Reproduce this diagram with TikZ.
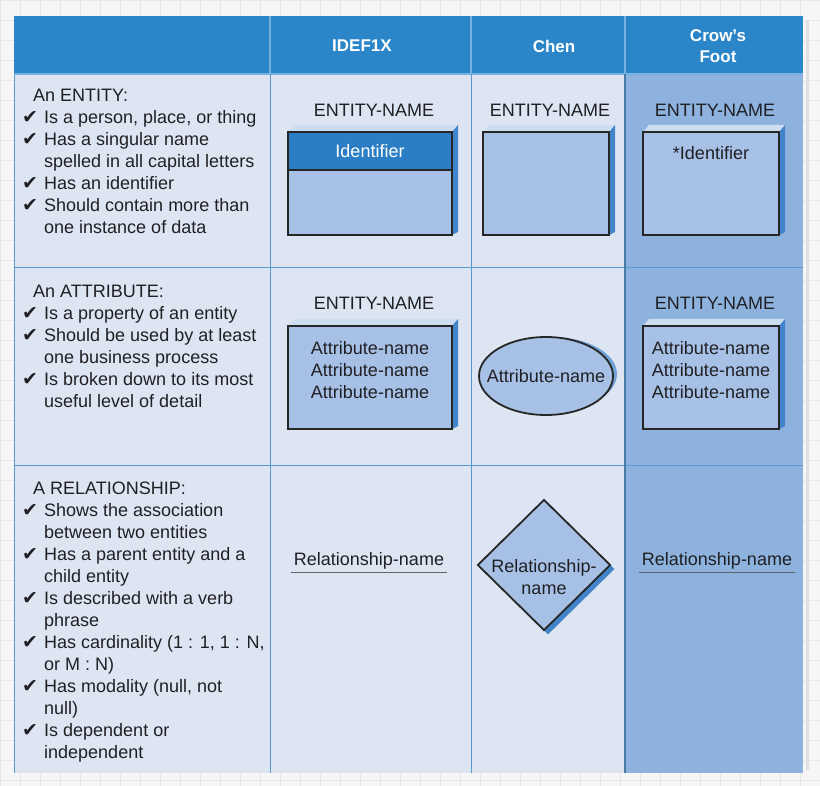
\documentclass[tikz,border=0pt]{standalone}
\usepackage{fontspec}
\setmainfont{Liberation Sans}
\newfontfamily\symfont{DejaVu Sans}
\usetikzlibrary{shapes.geometric, positioning, calc}

\pgfdeclarelayer{back}
\pgfdeclarelayer{faces}
\pgfsetlayers{back,faces,main}

\newcommand{\ck}{\makebox[22pt][l]{\symfont\fontsize{19}{22}\selectfont ✔}}
\newcommand{\ind}{\hspace*{22pt}}
\newcommand{\ttl}{\hspace*{11pt}}

\begin{document}
\begin{tikzpicture}[x=1pt, y=-1pt,
    every node/.style={font=\fontsize{18}{22}\selectfont, text=textcol},
    head/.style={font=\fontsize{17}{21}\selectfont\bfseries, text=white, align=center},
    notes/.style={align=left, inner sep=0pt, anchor=north west},
    ebox/.style={draw=black!85, line width=1.8pt, fill=boxfill, inner sep=0pt, outer sep=0pt, minimum height=103pt, anchor=north west},
    uline/.style={draw=textcol!70, line width=1pt},
    face/.style={fill=sidecol}]

        % Define colors for the table
        \definecolor{pagecol}{RGB}{246,246,246}
        \definecolor{gridcol}{RGB}{232,232,232}
        \definecolor{headcol}{RGB}{42,134,200}
        \definecolor{headline}{RGB}{120,178,224}
        \definecolor{cellcol}{RGB}{221,229,243}
        \definecolor{crowcol}{RGB}{141,178,222}
        \definecolor{linecol}{RGB}{88,152,208}
        \definecolor{boxfill}{RGB}{167,193,230}
        \definecolor{bandcol}{RGB}{43,126,196}
        \definecolor{sidecol}{RGB}{66,132,202}
        \definecolor{topcol}{RGB}{205,221,240}
        \definecolor{textcol}{RGB}{32,32,36}

        \useasboundingbox (0,0) rectangle (820,786);

        % Page with faint grid and the table cells
        \begin{pgfonlayer}{back}
            \fill[pagecol] (0,0) rectangle (820,786);
            \draw[gridcol, step=20pt] (0,0) grid (820,786);
            \fill[black!12] (806,20) rectangle (809,770);
            \fill[headcol] (14,16) rectangle (803,74);
            \fill[cellcol] (14,74) rectangle (625,773);
            \fill[crowcol] (625,74) rectangle (803,773);
            \draw[headline, line width=1.2pt] (270,16) -- (270,74) (471,16) -- (471,74) (625,16) -- (625,74) (14,74) -- (803,74);
            \draw[linecol, line width=1pt] (14,268) -- (803,268) (14,466) -- (803,466) (14,74) -- (14,773) (270,74) -- (270,773) (471,74) -- (471,773);
            \draw[linecol!80!black, line width=1.4pt] (625,74) -- (625,773);
        \end{pgfonlayer}

        % Header row
        \node[head] (hidef) at (362,46) {IDEF1X};
        \node[head] (hchen) at (554,46) {Chen};
        \node[head] (hcrow) at (718,46) {Crow's\\Foot};

        % Left column notes
        \node[notes] (entnotes) at (22,89) {\ttl An ENTITY:\\ \ck Is a person, place, or thing\\ \ck Has a singular name\\ \ind spelled in all capital letters\\ \ck Has an identifier\\ \ck Should contain more than\\ \ind one instance of data};
        \node[notes] (attnotes) at (22,285) {\ttl An ATTRIBUTE:\\ \ck Is a property of an entity\\ \ck Should be used by at least\\ \ind one business process\\ \ck Is broken down to its most\\ \ind useful level of detail};
        \node[notes] (relnotes) at (22,482) {\ttl A RELATIONSHIP:\\ \ck Shows the association\\ \ind between two entities\\ \ck Has a parent entity and a\\ \ind child entity\\ \ck Is described with a verb\\ \ind phrase\\ \ck Has cardinality (1 : 1, 1 : N,\\ \ind or M : N)\\ \ck Has modality (null, not\\ \ind null)\\ \ck Is dependent or\\ \ind independent};

        % Entity row
        \node (idefname) at (374,110) {ENTITY-NAME};
        \node[ebox, minimum width=164pt] (idefent) at (288,132) {};
        \node[ebox, fill=bandcol, minimum width=164pt, minimum height=38pt, anchor=north, text=white] (idefkey) at (idefent.north) {Identifier};
        \node (chenname) at (550,110) {ENTITY-NAME};
        \node[ebox, minimum width=126pt] (chenent) at (483,132) {};
        \node (crowname) at (715,110) {ENTITY-NAME};
        \node[ebox, minimum width=136pt] (crowent) at (643,132) {};
        \node (crowkey) at (711,153) {*Identifier};

        % Attribute row
        \node (idefname2) at (374,303) {ENTITY-NAME};
        \node[ebox, minimum width=164pt] (idefatt) at (288,326) {};
        \node[align=center] (idefattr) at (370,370) {Attribute-name\\Attribute-name\\Attribute-name};
        \node[ellipse, draw=black!85, line width=1.8pt, fill=boxfill, minimum width=134pt, minimum height=78pt, inner sep=0pt] (chenatt) at (546,376) {};
        \node (chenattr) at (546,376) {Attribute-name};
        \node (crowname2) at (715,303) {ENTITY-NAME};
        \node[ebox, minimum width=136pt] (crowatt) at (643,326) {};
        \node[align=center] (crowattr) at (711,370) {Attribute-name\\Attribute-name\\Attribute-name};

        % Relationship row
        \node[inner sep=2.5pt] (idefrel) at (369,561) {Relationship-name};
        \draw[uline] (idefrel.south west) -- (idefrel.south east);
        \node[diamond, draw=black!85, line width=1.8pt, fill=boxfill, minimum width=133pt, minimum height=131pt, inner sep=0pt] (chenrel) at (544,565) {};
        \node[align=center] (chenreltxt) at (544,577) {Relationship-\\name};
        \node[inner sep=2.5pt] (crowrel) at (717,561) {Relationship-name};
        \draw[uline] (crowrel.south west) -- (crowrel.south east);

        % Raised faces behind the shapes
        \begin{pgfonlayer}{faces}
            \foreach \b in {idefent, chenent, crowent, idefatt, crowatt} {
                \fill[topcol] (\b.north west) -- ++(6,-7) -- ($(\b.north east)+(6,-7)$) -- (\b.north east) -- cycle;
                \fill[face] (\b.north east) -- ++(6,-7) -- ($(\b.south east)+(6,-3)$) -- (\b.south east) -- cycle;
            }
            \node[ellipse, fill=sidecol!75, minimum width=130pt, minimum height=74pt, xshift=6pt, yshift=2pt] at (chenatt.center) {};
            \node[diamond, fill=sidecol, minimum width=133pt, minimum height=131pt, inner sep=0pt, xshift=4pt, yshift=-4pt] at (chenrel.center) {};
        \end{pgfonlayer}

\end{tikzpicture}
\end{document}
